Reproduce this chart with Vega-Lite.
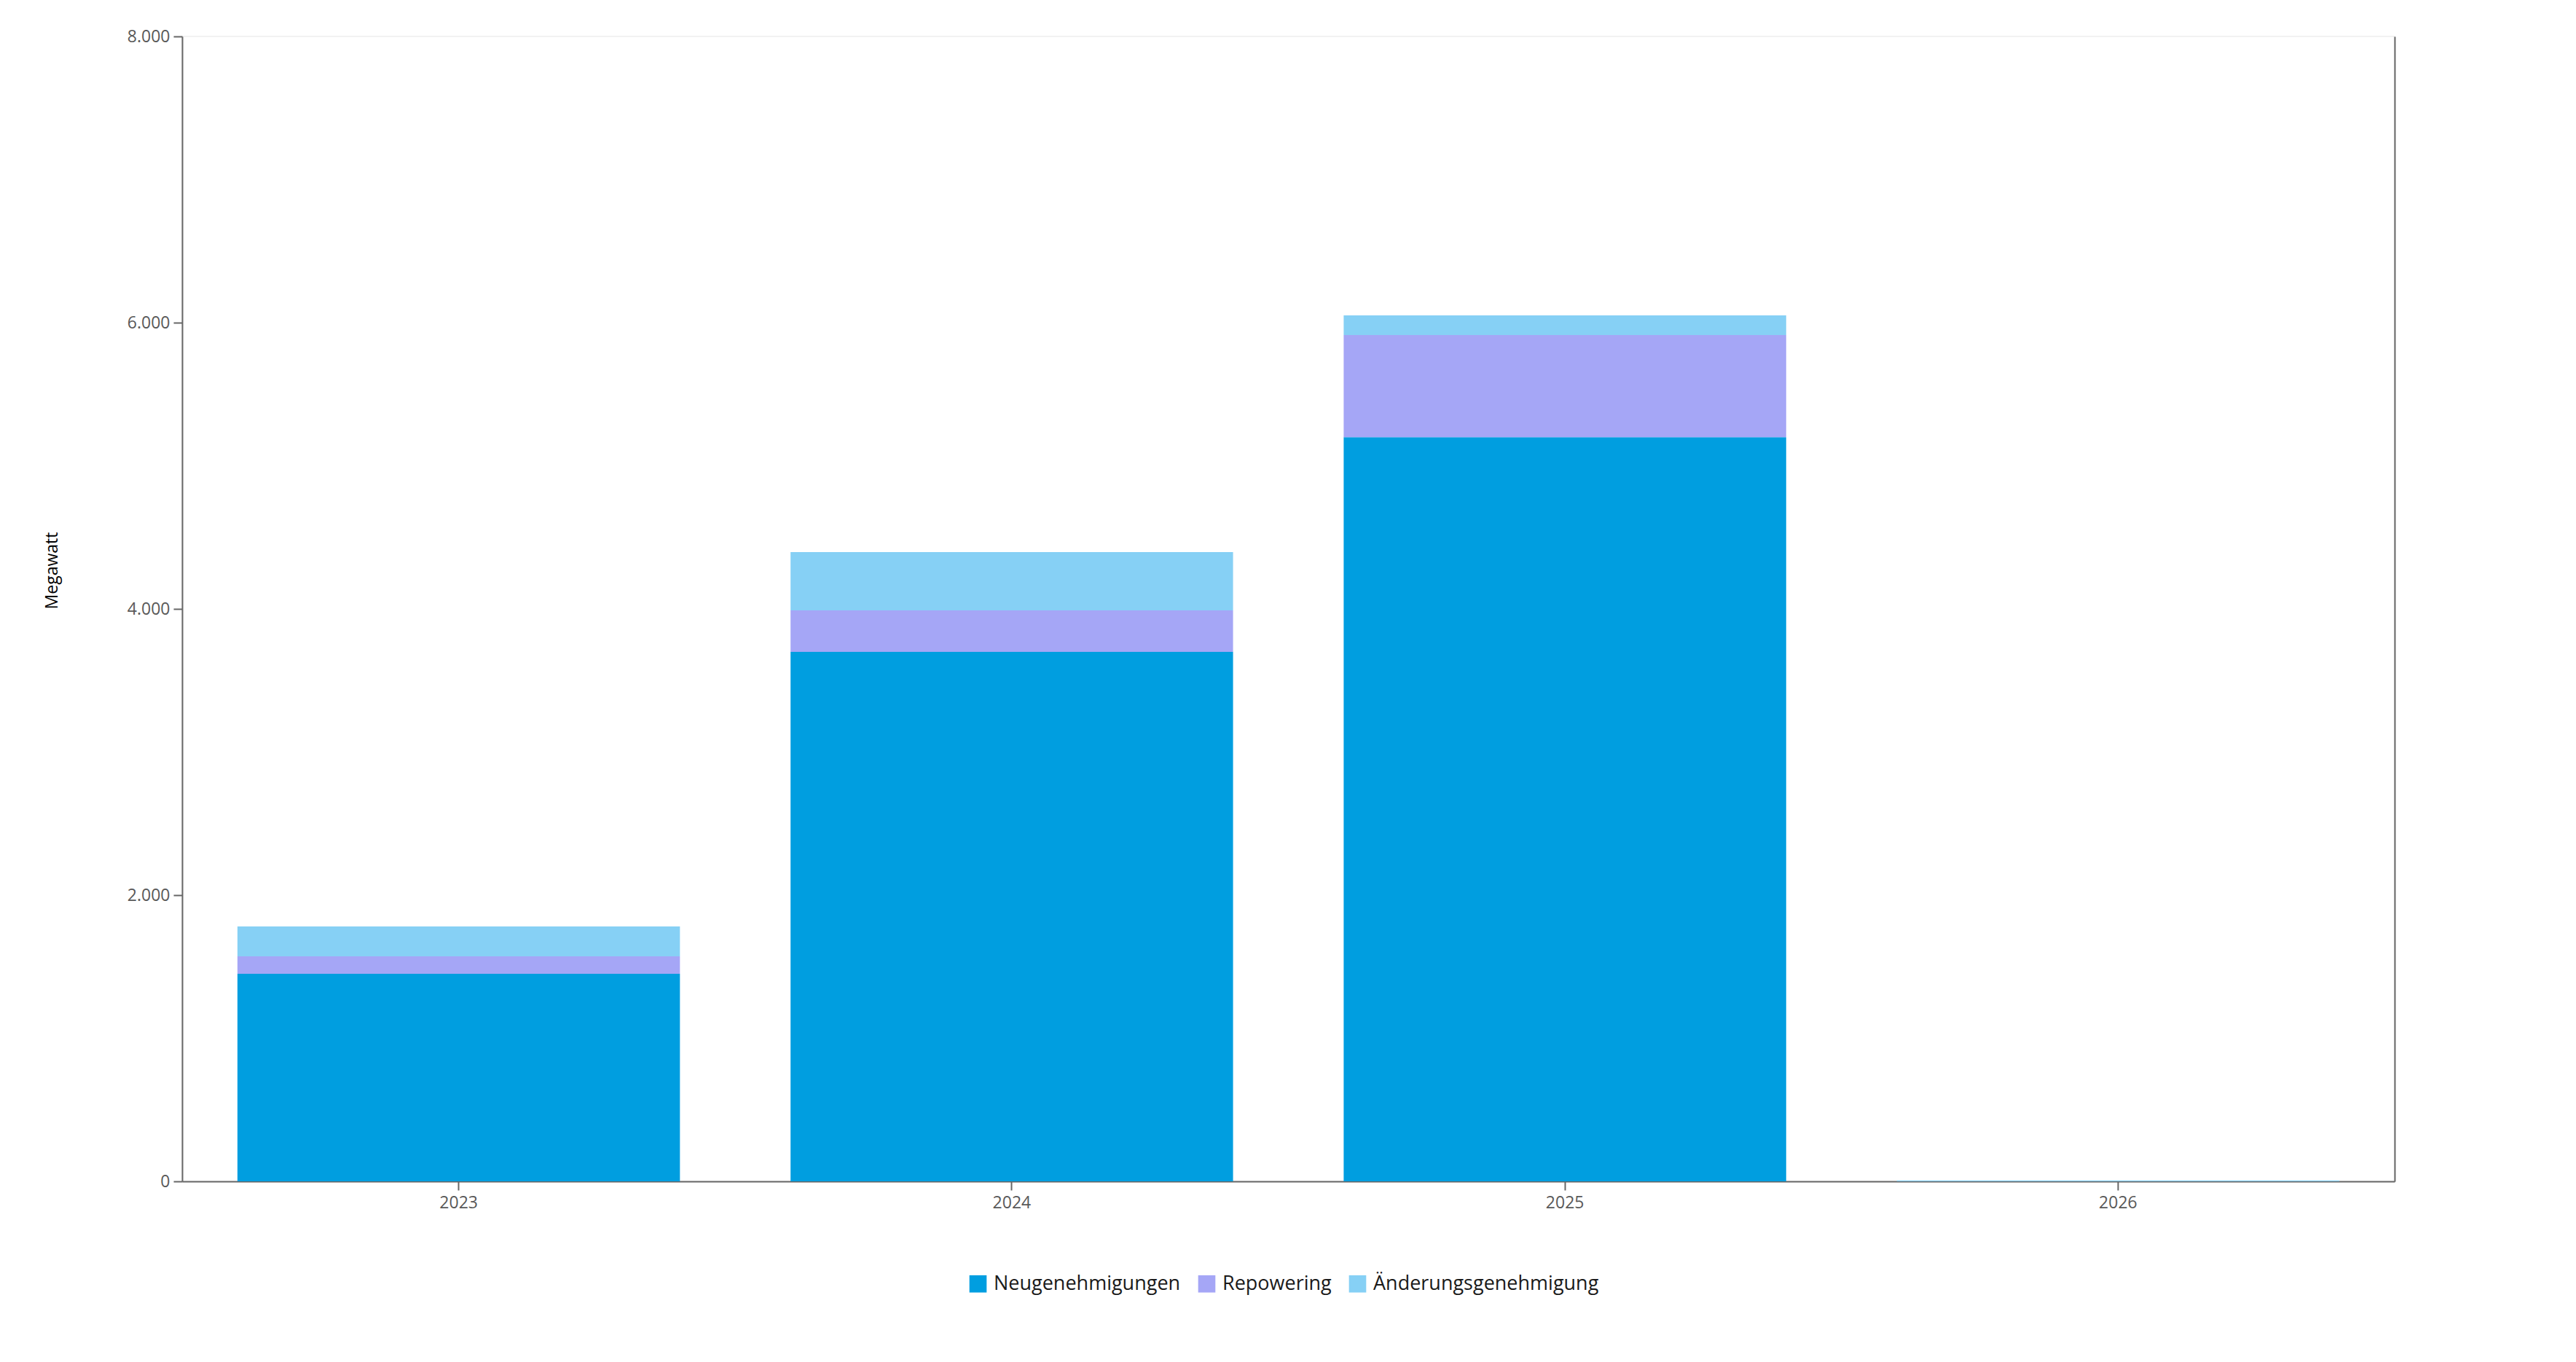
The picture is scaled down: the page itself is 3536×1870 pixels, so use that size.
{
  "$schema": "https://vega.github.io/schema/vega-lite/v6.json",
  "width": 3037,
  "height": 1572,
  "autosize": {"type": "none"},
  "padding": {"left": 250, "top": 50, "right": 249, "bottom": 248},
  "background": "white",
  "config": {
    "font": "Segoe UI, Open Sans, sans-serif",
    "view": {"stroke": "#f2f2f2", "strokeWidth": 2}
  },
  "data": {
    "values": [
      {"jahr": "2023", "art": "Neugenehmigungen", "mw": 1450},
      {"jahr": "2023", "art": "Repowering", "mw": 123},
      {"jahr": "2023", "art": "Änderungsgenehmigung", "mw": 208},
      {"jahr": "2024", "art": "Neugenehmigungen", "mw": 3700},
      {"jahr": "2024", "art": "Repowering", "mw": 290},
      {"jahr": "2024", "art": "Änderungsgenehmigung", "mw": 407},
      {"jahr": "2025", "art": "Neugenehmigungen", "mw": 5200},
      {"jahr": "2025", "art": "Repowering", "mw": 713},
      {"jahr": "2025", "art": "Änderungsgenehmigung", "mw": 138},
      {"jahr": "2026", "art": "Neugenehmigungen", "mw": 0},
      {"jahr": "2026", "art": "Repowering", "mw": 0},
      {"jahr": "2026", "art": "Änderungsgenehmigung", "mw": 6}
    ]
  },
  "encoding": {
    "x": {
      "field": "jahr",
      "type": "ordinal",
      "scale": {"paddingInner": 0.2, "paddingOuter": 0.1},
      "axis": {
        "title": null,
        "labelAngle": 0,
        "labelFontSize": 23,
        "labelColor": "#595959",
        "labelPadding": 6,
        "tickSize": 12,
        "tickWidth": 2,
        "tickColor": "#666666",
        "domainColor": "#666666",
        "domainWidth": 2,
        "grid": false
      }
    }
  },
  "layer": [
    {
      "mark": {"type": "bar"},
      "encoding": {
        "y": {
          "field": "mw",
          "type": "quantitative",
          "stack": "zero",
          "scale": {"domain": [0, 8000], "nice": false},
          "axis": {
            "title": "Megawatt",
            "titleFontSize": 23,
            "titleFontWeight": "normal",
            "titleColor": "#000000",
            "titleX": -179,
            "titleY": 733,
            "titleAlign": "center",
            "titleBaseline": "middle",
            "titleAngle": -90,
            "values": [0, 2000, 4000, 6000, 8000],
            "labelExpr": "replace(format(datum.value, ','), ',', '.')",
            "labelFontSize": 23,
            "labelColor": "#595959",
            "labelPadding": 5,
            "tickSize": 12,
            "tickWidth": 2,
            "tickColor": "#666666",
            "domainColor": "#666666",
            "domainWidth": 2,
            "grid": false
          }
        },
        "color": {
          "field": "art",
          "type": "nominal",
          "sort": ["Neugenehmigungen", "Repowering", "Änderungsgenehmigung"],
          "scale": {
            "domain": ["Neugenehmigungen", "Repowering", "Änderungsgenehmigung"],
            "range": ["#009EE0", "#A5A6F6", "#86D0F5"]
          },
          "legend": {
            "title": null,
            "orient": "none",
            "direction": "horizontal",
            "legendX": 1079,
            "legendY": 1699,
            "padding": 0,
            "symbolType": "square",
            "symbolSize": 560,
            "symbolStrokeWidth": 0,
            "labelFontSize": 27,
            "labelLimit": 1000,
            "labelColor": "#1a1a1a",
            "labelOffset": 8,
            "columnPadding": 22
          }
        },
        "order": {"field": "art", "sort": "ascending"}
      }
    },
    {
      "mark": {"type": "tick", "opacity": 0},
      "encoding": {
        "y": {
          "field": "mw",
          "type": "quantitative",
          "scale": {"domain": [0, 8000], "nice": false},
          "axis": {
            "orient": "right",
            "title": null,
            "labels": false,
            "ticks": false,
            "grid": false,
            "domainColor": "#666666",
            "domainWidth": 2
          }
        }
      }
    }
  ],
  "resolve": {"scale": {"y": "independent"}, "axis": {"y": "independent"}}
}
